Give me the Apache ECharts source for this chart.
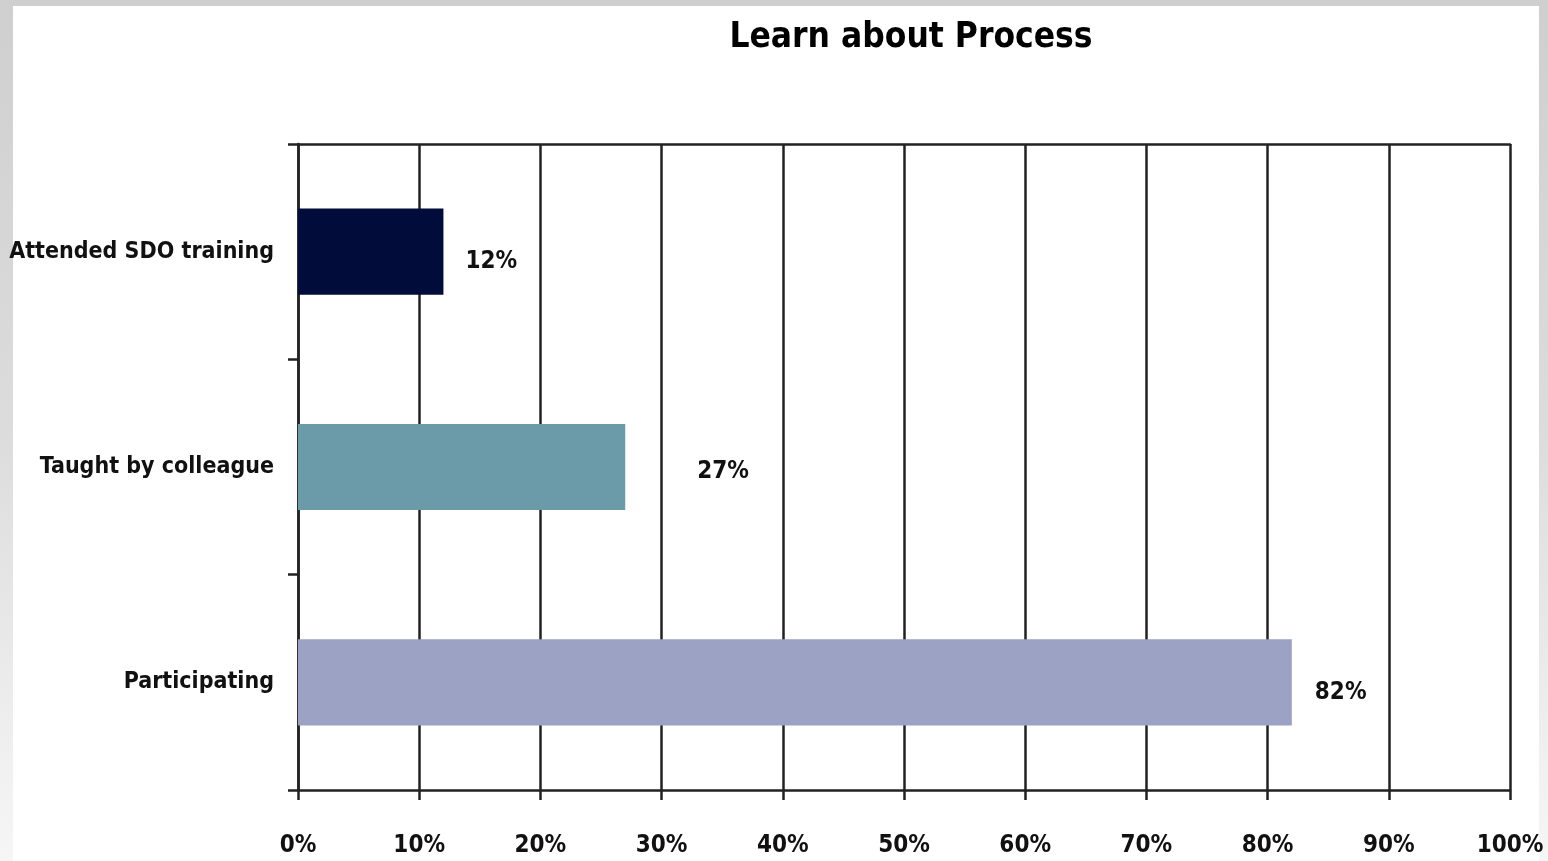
<!DOCTYPE html>
<html>
<head>
<meta charset="utf-8">
<script src="https://cdn.jsdelivr.net/npm/echarts@6/dist/echarts.min.js"></script>
<style>
  html, body { margin: 0; padding: 0; width: 1548px; height: 861px; overflow: hidden; }
  body { background: linear-gradient(to bottom, #cfcfcf 0%, #dcdcdc 50%, #f6f6f6 100%); position: relative; }
  #panel { position: absolute; left: 13px; top: 6px; width: 1526px; height: 855px; background: #ffffff; }
  #chart { position: absolute; left: 0; top: 0; width: 1548px; height: 861px; }
</style>
</head>
<body>
<div id="panel"></div>
<div id="chart"></div>
<script>
const titleText = 'Learn about Process';
const categories = ['Attended SDO training', 'Taught by colleague', 'Participating'];
const values = [12, 27, 82];
const tickValues = [0, 10, 20, 30, 40, 50, 60, 70, 80, 90, 100];

const barColors = ['#020c3a', '#6b9aa8', '#9ba2c3'];
const labelDistances = [22, 72, 23];
const labelOffsets = [10, 5, 10];
const FONT = '"Liberation Sans Narrow", "DejaVu Sans Condensed", sans-serif';

const chart = echarts.init(document.getElementById('chart'), null, { renderer: 'canvas' });

const seriesData = values.map((v, i) => ({
  value: v,
  itemStyle: { color: barColors[i] },
  label: { distance: labelDistances[i], offset: [0, labelOffsets[i]] }
}));

chart.setOption({
  backgroundColor: 'transparent',
  animation: false,
  title: {
    text: titleText,
    left: 906,
    textAlign: 'center',
    top: 15,
    textStyle: { fontFamily: FONT, fontWeight: 'bold', fontSize: 35, color: '#000' }
  },
  grid: { left: 298, right: 38, top: 144, bottom: 71, containLabel: false, outerBoundsMode: 'none' },
  xAxis: [{
    type: 'value',
    min: tickValues[0],
    max: tickValues[tickValues.length - 1],
    interval: tickValues[1] - tickValues[0],
    axisLine: { show: true, lineStyle: { color: '#222', width: 2.5 } },
    axisTick: { show: true, length: 10, lineStyle: { color: '#222', width: 2.5 } },
    splitLine: { show: true, lineStyle: { color: '#222', width: 2.5 } },
    axisLabel: {
      formatter: '{value}%', margin: 44,
      fontFamily: FONT, fontWeight: 'bold', fontSize: 24, color: '#111'
    }
  }, {
    type: 'value', position: 'top',
    min: tickValues[0], max: tickValues[tickValues.length - 1],
    axisLine: { show: true, lineStyle: { color: '#222', width: 2.5 } },
    axisTick: { show: false }, splitLine: { show: false }, axisLabel: { show: false }
  }],
  yAxis: {
    type: 'category',
    inverse: true,
    data: categories,
    axisLine: { show: true, lineStyle: { color: '#222', width: 2.5 } },
    axisTick: { show: true, length: 10, lineStyle: { color: '#222', width: 2.5 } },
    axisLabel: {
      margin: 24, fontFamily: FONT, fontWeight: 'bold', fontSize: 23, color: '#111'
    }
  },
  series: [{
    type: 'bar',
    data: seriesData,
    barWidth: '40%',
    label: {
      show: true, position: 'right',
      formatter: p => p.value + '%',
      fontFamily: FONT, fontWeight: 'bold', fontSize: 24, color: '#111'
    }
  }]
});
</script>
</body>
</html>
